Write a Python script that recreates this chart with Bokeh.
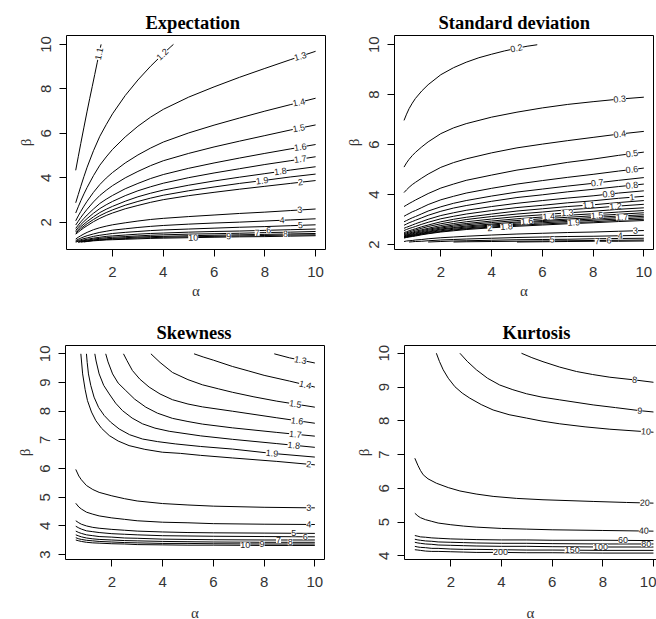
from bokeh.plotting import figure
from bokeh.layouts import column, row
from bokeh.models import FixedTicker, LinearAxis
from bokeh.core.properties import value
from bokeh.embed import file_html
from bokeh.resources import INLINE

# ---------------- Expectation ----------------
exp_alpha = [0.55, 0.65, 0.75, 0.875, 1, 1.25, 1.5, 1.75, 2, 2.5, 3, 3.5, 4, 5, 6, 7, 8, 9, 10]
exp_levels = ["1.3", "1.4", "1.5", "1.6", "1.7", "1.8", "1.9", "2",
              "3", "4", "5", "6", "7", "8", "9", "10"]
exp_beta = [
    [2.42, 2.70, 2.97, 3.28, 3.57, 4.10, 4.57, 4.94, 5.28, 5.84, 6.32, 6.73, 7.08, 7.63, 8.09, 8.52, 8.92, 9.31, 9.69],
    [2.07, 2.29, 2.49, 2.73, 2.95, 3.35, 3.70, 3.99, 4.24, 4.67, 5.03, 5.34, 5.61, 6.02, 6.37, 6.69, 7.00, 7.29, 7.58],
    [1.88, 2.05, 2.22, 2.41, 2.59, 2.92, 3.21, 3.44, 3.65, 4.00, 4.29, 4.55, 4.77, 5.10, 5.39, 5.65, 5.90, 6.15, 6.38],
    [1.73, 1.88, 2.02, 2.18, 2.33, 2.60, 2.85, 3.04, 3.21, 3.51, 3.75, 3.97, 4.15, 4.43, 4.67, 4.89, 5.10, 5.30, 5.50],
    [1.64, 1.77, 1.90, 2.04, 2.17, 2.41, 2.62, 2.79, 2.94, 3.20, 3.42, 3.60, 3.76, 4.01, 4.22, 4.41, 4.60, 4.77, 4.95],
    [1.57, 1.69, 1.80, 1.92, 2.04, 2.25, 2.44, 2.59, 2.72, 2.95, 3.15, 3.31, 3.45, 3.67, 3.86, 4.03, 4.19, 4.35, 4.50],
    [1.52, 1.62, 1.72, 1.83, 1.94, 2.13, 2.30, 2.44, 2.56, 2.77, 2.94, 3.09, 3.22, 3.42, 3.59, 3.75, 3.89, 4.04, 4.17],
    [1.47, 1.56, 1.65, 1.76, 1.85, 2.03, 2.18, 2.31, 2.42, 2.61, 2.76, 2.90, 3.02, 3.20, 3.35, 3.49, 3.62, 3.75, 3.88],
    [1.25, 1.33, 1.40, 1.48, 1.55, 1.67, 1.76, 1.83, 1.89, 1.98, 2.06, 2.13, 2.18, 2.26, 2.33, 2.40, 2.46, 2.53, 2.60],
    [1.18, 1.24, 1.29, 1.35, 1.40, 1.48, 1.55, 1.60, 1.65, 1.71, 1.77, 1.82, 1.86, 1.92, 1.97, 2.01, 2.06, 2.11, 2.16],
    [1.14, 1.19, 1.22, 1.27, 1.30, 1.37, 1.42, 1.46, 1.50, 1.55, 1.59, 1.63, 1.66, 1.70, 1.74, 1.78, 1.81, 1.85, 1.89],
    [1.11, 1.15, 1.18, 1.21, 1.24, 1.29, 1.33, 1.37, 1.39, 1.43, 1.47, 1.50, 1.52, 1.56, 1.59, 1.61, 1.64, 1.67, 1.70],
    [None, 1.12, 1.15, 1.18, 1.20, 1.25, 1.28, 1.31, 1.33, 1.36, 1.39, 1.42, 1.44, 1.47, 1.49, 1.51, 1.54, 1.56, 1.59],
    [None, 1.10, 1.13, 1.15, 1.17, 1.21, 1.24, 1.26, 1.28, 1.31, 1.34, 1.36, 1.37, 1.40, 1.42, 1.44, 1.46, 1.48, 1.50],
    [None, None, 1.11, 1.13, 1.15, 1.19, 1.21, 1.23, 1.25, 1.27, 1.30, 1.31, 1.33, 1.35, 1.37, 1.39, 1.41, 1.43, 1.44],
    [None, None, None, 1.12, 1.14, 1.17, 1.19, 1.21, 1.22, 1.24, 1.26, 1.28, 1.29, 1.31, 1.33, 1.35, 1.36, 1.38, 1.40],
]
# the two contours that leave through the top edge
exp_11_alpha = [0.55, 0.65, 0.75, 0.875, 1.0, 1.1, 1.2, 1.3, 1.4, 1.5, 1.55]
exp_11_beta = [4.34, 4.95, 5.55, 6.28, 7.0, 7.56, 8.1, 8.65, 9.2, 9.75, 10.0]
exp_12_alpha = [0.55, 0.65, 0.75, 0.875, 1, 1.25, 1.5, 1.75, 2, 2.5, 3, 3.5, 4, 4.3, 4.4]
exp_12_beta = [2.88, 3.25, 3.62, 4.06, 4.48, 5.22, 5.87, 6.39, 6.88, 7.70, 8.40, 9.02, 9.58, 9.90, 10.0]

exp_lab_text = ["1.1", "1.2", "1.3", "1.4", "1.5", "1.6", "1.7", "1.8", "1.9",
                "2", "3", "4", "5", "6", "7", "8", "9", "10"]
exp_lab_alpha = [1.47, 3.97, 9.4, 9.34, 9.34, 9.4, 9.4, 8.61, 7.89,
                 9.4, 9.38, 8.68, 9.4, 8.15, 7.7, 8.81, 6.58, 5.18]
exp_lab_beta = [9.58, 9.55, 9.46, 7.39, 6.23, 5.38, 4.84, 4.29, 3.87,
                3.80, 2.56, 2.09, 1.87, 1.645, 1.53, 1.48, 1.38, 1.31]
exp_lab_angle = [78, 44, 15, 11, 10, 8, 8, 7, 7, 6, 3.5, 3, 2, 1.5, 1.5, 1, 1, 1]

# ---------------- Standard deviation ----------------
sd_alpha = [0.55, 0.65, 0.75, 0.875, 1, 1.25, 1.5, 2, 2.5, 3, 4, 5, 6, 7, 8, 9, 10]
sd_levels = ["0.3", "0.4", "0.5", "0.6", "0.7", "0.8", "0.9", "1", "1.1", "1.2",
             "1.3", "1.4", "1.5", "1.6", "1.7", "1.8", "1.9", "2",
             "3", "4", "5", "6", "7"]
sd_beta = [
    [5.10, 5.27, 5.41, 5.56, 5.69, 5.91, 6.11, 6.44, 6.67, 6.84, 7.10, 7.30, 7.47, 7.61, 7.72, 7.82, 7.90],
    [4.08, 4.19, 4.29, 4.40, 4.49, 4.66, 4.82, 5.09, 5.28, 5.43, 5.67, 5.87, 6.02, 6.16, 6.29, 6.42, 6.53],
    [3.52, 3.58, 3.64, 3.71, 3.78, 3.91, 4.04, 4.26, 4.42, 4.57, 4.78, 4.98, 5.13, 5.29, 5.42, 5.57, 5.70],
    [3.13, 3.19, 3.24, 3.31, 3.36, 3.48, 3.60, 3.79, 3.93, 4.06, 4.25, 4.42, 4.56, 4.69, 4.81, 4.94, 5.06],
    [2.91, 2.96, 3.01, 3.07, 3.12, 3.23, 3.34, 3.51, 3.65, 3.76, 3.94, 4.10, 4.22, 4.34, 4.45, 4.57, 4.68],
    [2.77, 2.82, 2.87, 2.92, 2.97, 3.07, 3.17, 3.33, 3.46, 3.56, 3.73, 3.88, 3.99, 4.11, 4.21, 4.32, 4.42],
    [2.65, 2.69, 2.73, 2.78, 2.83, 2.92, 3.01, 3.16, 3.27, 3.37, 3.52, 3.65, 3.76, 3.86, 3.95, 4.06, 4.15],
    [2.56, 2.60, 2.64, 2.68, 2.72, 2.81, 2.89, 3.03, 3.13, 3.22, 3.36, 3.48, 3.57, 3.67, 3.75, 3.85, 3.93],
    [2.48, 2.51, 2.55, 2.59, 2.63, 2.71, 2.78, 2.91, 3.01, 3.09, 3.22, 3.34, 3.43, 3.52, 3.59, 3.68, 3.76],
    [2.43, 2.47, 2.50, 2.54, 2.58, 2.65, 2.72, 2.83, 2.92, 3.00, 3.12, 3.22, 3.30, 3.39, 3.46, 3.54, 3.61],
    [2.40, 2.43, 2.46, 2.49, 2.53, 2.59, 2.65, 2.76, 2.84, 2.91, 3.02, 3.12, 3.19, 3.27, 3.33, 3.41, 3.47],
    [2.37, 2.40, 2.42, 2.46, 2.49, 2.55, 2.61, 2.70, 2.78, 2.84, 2.94, 3.03, 3.10, 3.17, 3.23, 3.30, 3.36],
    [2.34, 2.37, 2.40, 2.43, 2.46, 2.51, 2.57, 2.66, 2.73, 2.79, 2.88, 2.96, 3.03, 3.09, 3.15, 3.21, 3.27],
    [2.32, 2.35, 2.37, 2.40, 2.43, 2.48, 2.53, 2.62, 2.68, 2.74, 2.82, 2.90, 2.96, 3.02, 3.08, 3.14, 3.19],
    [2.31, 2.33, 2.35, 2.38, 2.40, 2.45, 2.50, 2.59, 2.65, 2.70, 2.78, 2.86, 2.92, 2.97, 3.02, 3.08, 3.13],
    [2.29, 2.31, 2.33, 2.36, 2.38, 2.43, 2.48, 2.55, 2.61, 2.66, 2.74, 2.81, 2.87, 2.92, 2.97, 3.02, 3.07],
    [2.27, 2.30, 2.32, 2.34, 2.36, 2.41, 2.45, 2.52, 2.58, 2.63, 2.70, 2.77, 2.82, 2.87, 2.91, 2.97, 3.01],
    [2.26, 2.28, 2.30, 2.32, 2.34, 2.39, 2.43, 2.50, 2.55, 2.60, 2.67, 2.73, 2.78, 2.83, 2.87, 2.92, 2.96],
    [2.12, 2.14, 2.15, 2.16, 2.18, 2.20, 2.23, 2.27, 2.30, 2.33, 2.38, 2.42, 2.45, 2.48, 2.50, 2.53, 2.56],
    [None, None, 2.10, 2.11, 2.12, 2.13, 2.15, 2.18, 2.20, 2.22, 2.25, 2.28, 2.30, 2.32, 2.33, 2.35, 2.37],
    [None, None, None, None, None, None, 2.10, 2.12, 2.14, 2.15, 2.17, 2.19, 2.20, 2.21, 2.23, 2.24, 2.25],
    [None, None, None, None, None, None, None, None, 2.10, 2.11, 2.12, 2.13, 2.14, 2.15, 2.16, 2.17, 2.18],
    [None, None, None, None, None, None, None, None, None, None, None, 2.10, 2.11, 2.12, 2.13, 2.13, 2.14],
]
sd_02_alpha = [0.55, 0.65, 0.75, 0.875, 1, 1.25, 1.5, 2, 2.5, 3, 3.5, 4, 4.5, 5, 5.4, 5.8]
sd_02_beta = [6.97, 7.22, 7.44, 7.66, 7.85, 8.15, 8.4, 8.8, 9.08, 9.3, 9.48, 9.62, 9.75, 9.86, 9.94, 10.0]

sd_lab_text = ["0.2", "0.3", "0.4", "0.5", "0.6", "0.7", "0.8", "0.9", "1", "1.1",
               "1.2", "1.3", "1.4", "1.5", "1.6", "1.7", "1.8", "1.9", "2",
               "3", "4", "5", "6", "7"]
sd_lab_alpha = [4.98, 9.05, 9.05, 9.53, 9.53, 8.16, 9.53, 8.62, 9.53, 7.83,
                8.88, 6.98, 6.25, 8.16, 5.40, 9.14, 4.59, 7.24, 3.93,
                9.67, 9.07, 6.39, 8.62, 8.16]
sd_lab_beta = [9.86, 7.82, 6.42, 5.64, 5.00, 4.47, 4.37, 4.02, 3.89, 3.58,
               3.53, 3.27, 3.12, 3.16, 2.93, 3.09, 2.72, 2.88, 2.66,
               2.55, 2.35, 2.20, 2.16, 2.13]
sd_lab_angle = [12, 6, 8, 8, 7, 6, 6, 5, 5, 4.5, 4, 4, 4, 3.5, 4, 3, 4, 3, 3.5,
                1.7, 1.5, 1, 1, 1]

# ---------------- Skewness ----------------
sk_curves_alpha = [
    [8.40, 9.0, 10],
    [5.24, 5.6, 6.0, 6.75, 7.4, 8.0, 9.0, 10],
    [3.54, 3.9, 4.39, 5.0, 5.57, 6.2, 6.75, 7.6, 8.5, 10],
    [2.46, 2.6, 2.81, 3.1, 3.47, 3.9, 4.39, 5.0, 5.57, 6.75, 8.5, 10],
    [1.76, 1.85, 2.03, 2.25, 2.55, 2.9, 3.34, 3.8, 4.39, 5.0, 5.57, 6.75, 8.5, 10],
    [1.33, 1.38, 1.50, 1.68, 1.90, 2.15, 2.42, 2.8, 3.21, 3.7, 4.26, 5.5, 6.75, 8.5, 10],
    [1.00, 1.03, 1.08, 1.17, 1.30, 1.48, 1.70, 1.95, 2.29, 2.7, 3.21, 3.8, 4.5, 5.5, 6.75, 8.3, 10],
    [0.78, 0.85, 0.95, 1.04, 1.2, 1.37, 1.6, 1.90, 2.25, 2.68, 3.3, 3.99, 4.7, 5.5, 6.75, 8.5, 10],
]
sk_curves_beta = [
    [10.0, 9.86, 9.68],
    [10.0, 9.89, 9.78, 9.56, 9.40, 9.25, 9.05, 8.84],
    [10.0, 9.7, 9.35, 9.10, 8.92, 8.78, 8.66, 8.50, 8.35, 8.14],
    [10.0, 9.76, 9.42, 9.12, 8.84, 8.60, 8.40, 8.25, 8.15, 8.00, 7.77, 7.58],
    [10.0, 9.72, 9.30, 8.98, 8.72, 8.42, 8.14, 7.93, 7.75, 7.64, 7.55, 7.42, 7.26, 7.13],
    [10.0, 9.75, 9.30, 8.90, 8.60, 8.28, 8.02, 7.76, 7.56, 7.41, 7.30, 7.14, 7.02, 6.87, 6.74],
    [10.0, 9.7, 9.30, 8.9, 8.49, 8.13, 7.85, 7.62, 7.38, 7.18, 7.03, 6.94, 6.86, 6.77, 6.68, 6.53, 6.40],
    [10.0, 9.30, 8.75, 8.37, 7.97, 7.67, 7.40, 7.15, 6.96, 6.80, 6.67, 6.57, 6.53, 6.46, 6.37, 6.25, 6.13],
]
sk_alpha = [0.58, 0.7, 0.8, 1, 1.25, 1.5, 2, 2.5, 3, 4, 5, 6, 8, 10]
sk_beta = [
    [5.97, 5.74, 5.61, 5.41, 5.27, 5.17, 5.05, 4.95, 4.87, 4.78, 4.73, 4.69, 4.65, 4.63],
    [4.79, 4.66, 4.59, 4.48, 4.41, 4.35, 4.28, 4.23, 4.18, 4.13, 4.11, 4.08, 4.06, 4.05],
    [4.18, 4.11, 4.06, 4.00, 3.95, 3.92, 3.88, 3.85, 3.82, 3.79, 3.77, 3.76, 3.75, 3.74],
    [3.99, 3.93, 3.89, 3.83, 3.80, 3.77, 3.73, 3.71, 3.69, 3.66, 3.65, 3.64, 3.63, 3.62],
    [3.82, 3.77, 3.74, 3.69, 3.66, 3.63, 3.61, 3.58, 3.57, 3.54, 3.53, 3.52, 3.51, 3.51],
    [3.69, 3.65, 3.62, 3.58, 3.55, 3.53, 3.51, 3.49, 3.48, 3.46, 3.45, 3.44, 3.43, 3.43],
    [3.59, 3.55, 3.53, 3.50, 3.48, 3.46, 3.44, 3.42, 3.41, 3.39, 3.39, 3.38, 3.37, 3.37],
    [3.51, 3.48, 3.46, 3.43, 3.41, 3.40, 3.38, 3.37, 3.35, 3.34, 3.33, 3.33, 3.32, 3.32],
]
sk_lab_text = ["1.3", "1.4", "1.5", "1.6", "1.7", "1.8", "1.9", "2",
               "3", "4", "5", "6", "7", "8", "9", "10"]
sk_lab_alpha = [9.43, 9.62, 9.23, 9.30, 9.23, 9.17, 8.31, 9.76,
                9.76, 9.76, 9.17, 9.62, 8.57, 9.03, 7.92, 7.26]
sk_lab_beta = [9.78, 8.92, 8.25, 7.66, 7.19, 6.81, 6.53, 6.15,
               4.63, 4.05, 3.745, 3.62, 3.51, 3.43, 3.37, 3.325]
sk_lab_angle = [-11, -13, -9, -7, -6, -6, -5, -5, -1, -0.7, 0, 0, 0, 0, 0, 0]

# ---------------- Kurtosis ----------------
ku_curves_alpha = [
    [4.79, 5.2, 5.64, 6.3, 6.96, 7.6, 8.28, 9.26, 10],
    [2.36, 2.65, 3.01, 3.45, 3.93, 4.45, 4.99, 5.6, 6.30, 7.62, 8.5, 9.46, 10],
    [1.43, 1.55, 1.70, 1.9, 2.16, 2.45, 2.75, 3.2, 3.67, 4.3, 4.99, 5.6, 6.30, 7.3, 8.28, 10],
    [0.58, 0.7, 0.8, 0.91, 1.1, 1.43, 1.9, 2.36, 3.0, 3.67, 4.6, 5.64, 7.62, 8.93, 10],
]
ku_curves_beta = [
    [10.0, 9.87, 9.75, 9.59, 9.46, 9.37, 9.29, 9.21, 9.14],
    [10.0, 9.76, 9.51, 9.26, 9.06, 8.92, 8.80, 8.70, 8.62, 8.47, 8.39, 8.30, 8.26],
    [10.0, 9.76, 9.51, 9.26, 9.01, 8.82, 8.67, 8.48, 8.32, 8.18, 8.08, 7.99, 7.91, 7.82, 7.75, 7.66],
    [6.89, 6.68, 6.53, 6.40, 6.28, 6.15, 6.02, 5.92, 5.83, 5.76, 5.70, 5.66, 5.61, 5.58, 5.56],
]
ku_alpha = [0.58, 0.7, 0.8, 1, 1.25, 1.5, 2, 2.5, 3, 4, 5, 6, 8, 10]
ku_beta = [
    [5.26, 5.18, 5.13, 5.07, 5.02, 4.97, 4.92, 4.88, 4.85, 4.81, 4.79, 4.77, 4.75, 4.73],
    [4.60, 4.58, 4.56, 4.55, 4.53, 4.52, 4.50, 4.49, 4.48, 4.47, 4.47, 4.46, 4.46, 4.45],
    [4.49, 4.47, 4.46, 4.44, 4.43, 4.41, 4.40, 4.39, 4.38, 4.37, 4.37, 4.36, 4.35, 4.35],
    [4.40, 4.38, 4.37, 4.35, 4.34, 4.32, 4.31, 4.30, 4.29, 4.28, 4.28, 4.27, 4.26, 4.26],
    [4.28, 4.26, 4.25, 4.24, 4.22, 4.22, 4.20, 4.19, 4.19, 4.18, 4.17, 4.17, 4.16, 4.16],
    [4.18, 4.17, 4.16, 4.14, 4.13, 4.13, 4.12, 4.11, 4.10, 4.10, 4.09, 4.09, 4.08, 4.08],
]
ku_lab_text = ["8", "9", "10", "20", "40", "60", "80", "100", "150", "200"]
ku_lab_alpha = [9.26, 9.46, 9.7, 9.66, 9.62, 8.8, 9.72, 7.91, 6.79, 3.96]
ku_lab_beta = [9.21, 8.30, 7.68, 5.57, 4.74, 4.46, 4.35, 4.26, 4.17, 4.10]
ku_lab_angle = [-8, -5.6, -4, -1.5, -1, 0, 0, 0, 0, 0]

SANS = "Liberation Sans"
SERIF = "Liberation Serif"


def make_panel(title, title_offset, xr, yr, yticks, left, right, top, bottom,
               fw, fh, xlab_standoff, open_right=False):
    p = figure(frame_width=fw, frame_height=fh, x_range=xr, y_range=yr,
               min_border_left=left, min_border_right=right,
               min_border_top=top, min_border_bottom=bottom,
               output_backend="svg", toolbar_location=None, title=title)
    p.title.text_font = SERIF
    p.title.text_font_style = "bold"
    p.title.text_font_size = "18.5px"
    p.title.text_color = "black"
    p.title.align = "left"
    p.title.offset = title_offset
    p.title.standoff = 6
    p.xgrid.visible = False
    p.ygrid.visible = False
    p.background_fill_color = "white"
    p.border_fill_color = "white"
    p.xaxis.ticker = FixedTicker(ticks=[2, 4, 6, 8, 10])
    p.yaxis.ticker = FixedTicker(ticks=yticks)
    p.xaxis.axis_label = "\u03b1"
    p.yaxis.axis_label = "\u03b2"
    p.yaxis.major_label_orientation = "vertical"
    for ax in (p.xaxis[0], p.yaxis[0]):
        ax.major_tick_out = 7
        ax.major_tick_in = 0
        ax.major_tick_line_color = "black"
        ax.minor_tick_line_color = None
        ax.major_label_text_font = SANS
        ax.major_label_text_font_size = "15px"
        ax.major_label_text_color = "#333333"
        ax.axis_label_text_font = SERIF
        ax.axis_label_text_font_style = "normal"
        ax.axis_label_text_font_size = "15px"
        ax.axis_label_text_color = "#333333"
    p.xaxis.major_label_standoff = 10
    p.yaxis.major_label_standoff = 8
    p.xaxis.axis_label_standoff = xlab_standoff
    p.yaxis.axis_label_standoff = 5
    if open_right:
        # box drawn from axis lines, right side runs off the page
        p.outline_line_color = None
        p.xaxis.axis_line_color = "black"
        p.yaxis.axis_line_color = "black"
        top_axis = LinearAxis(ticker=FixedTicker(ticks=[]),
                              major_label_text_font_size="0px",
                              major_tick_line_color=None,
                              minor_tick_line_color=None,
                              axis_line_color="black")
        p.add_layout(top_axis, "above")
    else:
        p.outline_line_color = "black"
        p.outline_line_alpha = 1
        p.xaxis.axis_line_color = None
        p.yaxis.axis_line_color = None
    return p


def draw_curve(p, xs, ys):
    pts = [(a, b) for a, b in zip(xs, ys) if b is not None]
    p.line([a for a, _ in pts], [b for _, b in pts], line_color="black", line_width=1)


def draw_labels(p, xs, ys, texts, angles):
    p.text(x=xs, y=ys, text=texts, angle=angles, angle_units="deg",
           text_font=value(SANS), text_font_size="9px", text_color="#222222",
           text_align="center", text_baseline="middle",
           background_fill_color="white")


# Expectation
p1 = make_panel("Expectation", 79, (0.187, 10.39), (0.78, 10.40), [2, 4, 6, 8, 10],
                66, 3, 35, 61, 259, 214, 3)
draw_curve(p1, exp_11_alpha, exp_11_beta)
draw_curve(p1, exp_12_alpha, exp_12_beta)
for bl in exp_beta:
    draw_curve(p1, exp_alpha, bl)
draw_labels(p1, exp_lab_alpha, exp_lab_beta, exp_lab_text, exp_lab_angle)

# Standard deviation
p2 = make_panel("Standard deviation", 44, (0.175, 10.38), (1.80, 10.37), [2, 4, 6, 8, 10],
                66, 3, 35, 61, 259, 214, 3)
draw_curve(p2, sd_02_alpha, sd_02_beta)
for bl in sd_beta:
    draw_curve(p2, sd_alpha, bl)
draw_labels(p2, sd_lab_alpha, sd_lab_beta, sd_lab_text, sd_lab_angle)

# Skewness
p3 = make_panel("Skewness", 91, (0.175, 10.38), (2.83, 10.29), [3, 4, 5, 6, 7, 8, 9, 10],
                65, 4, 35, 60, 259, 214, 15)
for xs, ys in zip(sk_curves_alpha, sk_curves_beta):
    draw_curve(p3, xs, ys)
for bl in sk_beta:
    draw_curve(p3, sk_alpha, bl)
draw_labels(p3, sk_lab_alpha, sk_lab_beta, sk_lab_text, sk_lab_angle)

# Kurtosis
p4 = make_panel("Kurtosis", 98, (0.172, 10.12), (3.89, 10.23), [4, 5, 6, 7, 8, 9, 10],
                76, 0, 34, 61, 252, 214, 15, open_right=True)
for xs, ys in zip(ku_curves_alpha, ku_curves_beta):
    draw_curve(p4, xs, ys)
for bl in ku_beta:
    draw_curve(p4, ku_alpha, bl)
draw_labels(p4, ku_lab_alpha, ku_lab_beta, ku_lab_text, ku_lab_angle)

layout = column(row(p1, p2), row(p3, p4))
open("out.html", "w").write(file_html(layout, INLINE))
